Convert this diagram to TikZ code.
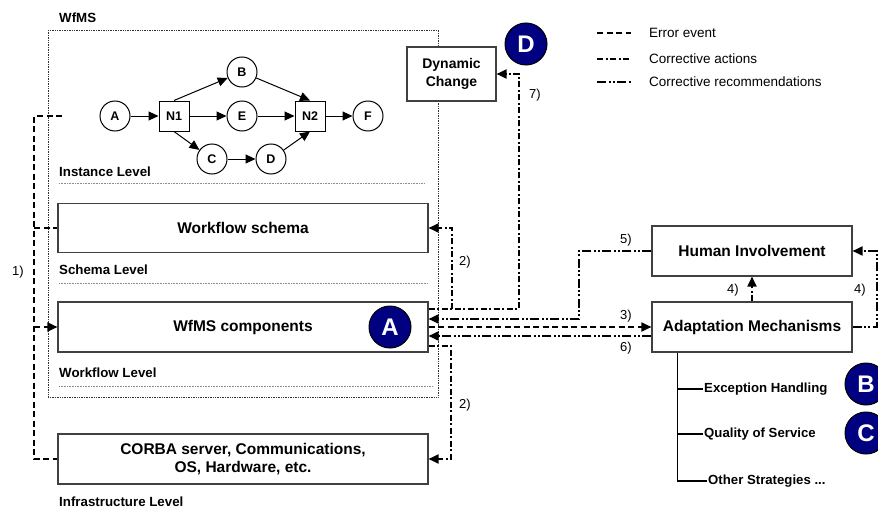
\documentclass[tikz,border=0pt]{standalone}
\usepackage{fontspec}
\setmainfont{Liberation Sans}
\usetikzlibrary{arrows.meta,calc}
\definecolor{navy}{RGB}{0,0,128}
\begin{document}
\begin{tikzpicture}[x=1pt,y=-1pt,
  tip/.style={-{Triangle[length=10pt,width=9pt]}},
  gtip/.style={-{Triangle[length=10pt,width=9pt]}},
  err/.style={line width=1.8pt, dash pattern=on 6pt off 3.5pt},
  act/.style={line width=1.8pt, dash pattern=on 6pt off 2.5pt on 2pt off 2.5pt},
  rec/.style={line width=1.8pt, dash pattern=on 9pt off 2.5pt on 2pt off 2pt on 2pt off 2.5pt},
  bigbox/.style={draw=black!75, line width=1.1pt, fill=white, inner sep=0pt, align=center,
     font=\fontsize{15.5}{18}\selectfont\bfseries},
  gcirc/.style={circle, draw, line width=1pt, minimum size=30pt, inner sep=0pt,
     font=\fontsize{12.5}{14}\selectfont\bfseries},
  gsq/.style={rectangle, draw, line width=1pt, minimum size=30pt, inner sep=0pt,
     font=\fontsize{12.5}{14}\selectfont\bfseries},
  lvl/.style={anchor=west, inner sep=0pt, font=\fontsize{13.3}{15}\selectfont\bfseries},
  num/.style={inner sep=0pt, font=\fontsize{13}{15}\selectfont},
  badge/.style={circle, draw=black, line width=1pt, fill=navy, minimum size=42pt, inner sep=0pt,
     text=white, font=\fontsize{24}{26}\selectfont\bfseries},
  leg/.style={anchor=west, inner sep=0pt, font=\fontsize{13.5}{16}\selectfont},
  tree/.style={anchor=west, inner sep=1pt, font=\fontsize{13.2}{15}\selectfont\bfseries},
  sep/.style={densely dotted, line width=0.6pt, black!45},
]
\useasboundingbox (0,0) rectangle (878,511);
\fill[white] (0,0) rectangle (878,511);

% WfMS frame
\draw[densely dotted, line width=0.7pt, black!80] (48,30) rectangle (438,397);
\node[lvl] (lwfms) at (59,18) {WfMS};
\node[lvl] (linst) at (59,172) {Instance Level};
\node[lvl] (lsch) at (59,270) {Schema Level};
\node[lvl] (lwf) at (59,373) {Workflow Level};
\node[lvl] (linf) at (59,502) {Infrastructure Level};
\draw[sep] (59,183) -- (424,183);
\draw[sep] (59,283) -- (428,283);
\draw[sep] (59,386) -- (432,386);

% instance graph
\node[gcirc] (A) at (115,116) {A};
\node[gsq] (N1) at (174,116) {N1};
\node[gcirc] (B) at (242,72) {B};
\node[gcirc] (E) at (242,116) {E};
\node[gcirc] (C) at (212,159) {C};
\node[gcirc] (D) at (271,159) {D};
\node[gsq] (N2) at (310,116) {N2};
\node[gcirc] (F) at (368,116) {F};
\begin{scope}[line width=1pt]
\draw[gtip] (A) -- (N1);
\draw[gtip] (N1.north) -- (B);
\draw[gtip] (N1) -- (E);
\draw[gtip] (N1.south) -- (C);
\draw[gtip] (B) -- (N2.north);
\draw[gtip] (E) -- (N2);
\draw[gtip] (C) -- (D);
\draw[gtip] (D) -- (N2.south);
\draw[gtip] (N2) -- (F);
\end{scope}

% boxes
\node[bigbox, minimum width=370pt, minimum height=49pt] (ws) at (243,228) {Workflow schema};
\node[bigbox, minimum width=370pt, minimum height=50pt] (wc) at (243,327) {WfMS components};
\node[bigbox, minimum width=370pt, minimum height=50pt] (corba) at (243,459) {CORBA server, Communications,\\OS, Hardware, etc.};
\node[bigbox, minimum width=89pt, minimum height=54pt, font=\fontsize{14}{18}\selectfont\bfseries] (dc) at (451.5,74) {Dynamic\\Change};
\node[bigbox, minimum width=200pt, minimum height=50pt] (hi) at (752,251) {Human Involvement};
\node[bigbox, minimum width=200pt, minimum height=50pt] (am) at (752,327) {Adaptation Mechanisms};

% badges
\node[badge] (bA) at (390,327) {A};
\node[badge] (bD) at (526,44) {D};
\node[badge] (bB) at (866,384) {B};
\node[badge] (bC) at (866,433) {C};

% error event lines (left)
\coordinate (ie) at (62,116);
\coordinate (lx) at (34,116);
\draw[err] (ie) -- (lx) |- (corba.west);
\draw[err] (ws.west -| lx) -- (ws.west);
\draw[err,tip] (wc.west -| lx) -- (wc.west);
\node[num] (n1) at (18,272) {1)};

% right side lines
\coordinate (k7) at (519,309);
\coordinate (j2) at (452,309);
\draw[act,tip] ($(wc.east)+(0,-18)$) -- (k7) |- (dc.east);
\draw[act,tip] (j2) |- (ws.east);
\coordinate (k5) at (579,319);
\draw[rec,tip] (hi.west) -| (k5) -- (k5 -| wc.east);
\draw[err,tip] (wc.east) -- (am.west);
\draw[rec,tip] ($(am.west)+(0,9)$) -- ($(wc.east)+(0,9)$);
\coordinate (k2) at (451,346);
\draw[act,tip] ($(wc.east)+(0,19)$) -- (k2) |- (corba.east);
\draw[act,tip] (am.north) -- (hi.south);
\coordinate (k4) at (877,327);
\draw[rec,tip] (am.east) -- (k4) |- (hi.east);

\node[num] (n7) at (535,95) {7)};
\node[num] (n2a) at (465,262) {2)};
\node[num] (n2b) at (465,405) {2)};
\node[num] (n5) at (626,240) {5)};
\node[num] (n3) at (626,316) {3)};
\node[num] (n6) at (626,348) {6)};
\node[num] (n4a) at (733,290) {4)};
\node[num] (n4b) at (860,290) {4)};

% tree of strategies
\coordinate (t0) at ($(am.south west)+(26,0)$);
\node[tree] (eh) at (703,389) {Exception Handling};
\node[tree] (qs) at (703,434) {Quality of Service};
\node[tree] (os) at (707,481) {Other Strategies ...};
\begin{scope}[line width=1.2pt]
\draw (t0) -- (t0 |- os.west) -- (os.west);
\draw (t0 |- eh.west) -- (eh.west);
\draw (t0 |- qs.west) -- (qs.west);
\end{scope}

% legend
\coordinate (la1) at (597,33);
\coordinate (lb1) at (631,33);
\coordinate (la2) at (597,59);
\coordinate (lb2) at (631,59);
\coordinate (la3) at (597,82);
\coordinate (lb3) at (631,82);
\draw[err] (la1) -- (lb1);
\draw[act] (la2) -- (lb2);
\draw[rec] (la3) -- (lb3);
\node[leg] (t1) at (649,33) {Error event};
\node[leg] (t2) at (649,59) {Corrective actions};
\node[leg] (t3) at (649,82) {Corrective recommendations};
\end{tikzpicture}
\end{document}
